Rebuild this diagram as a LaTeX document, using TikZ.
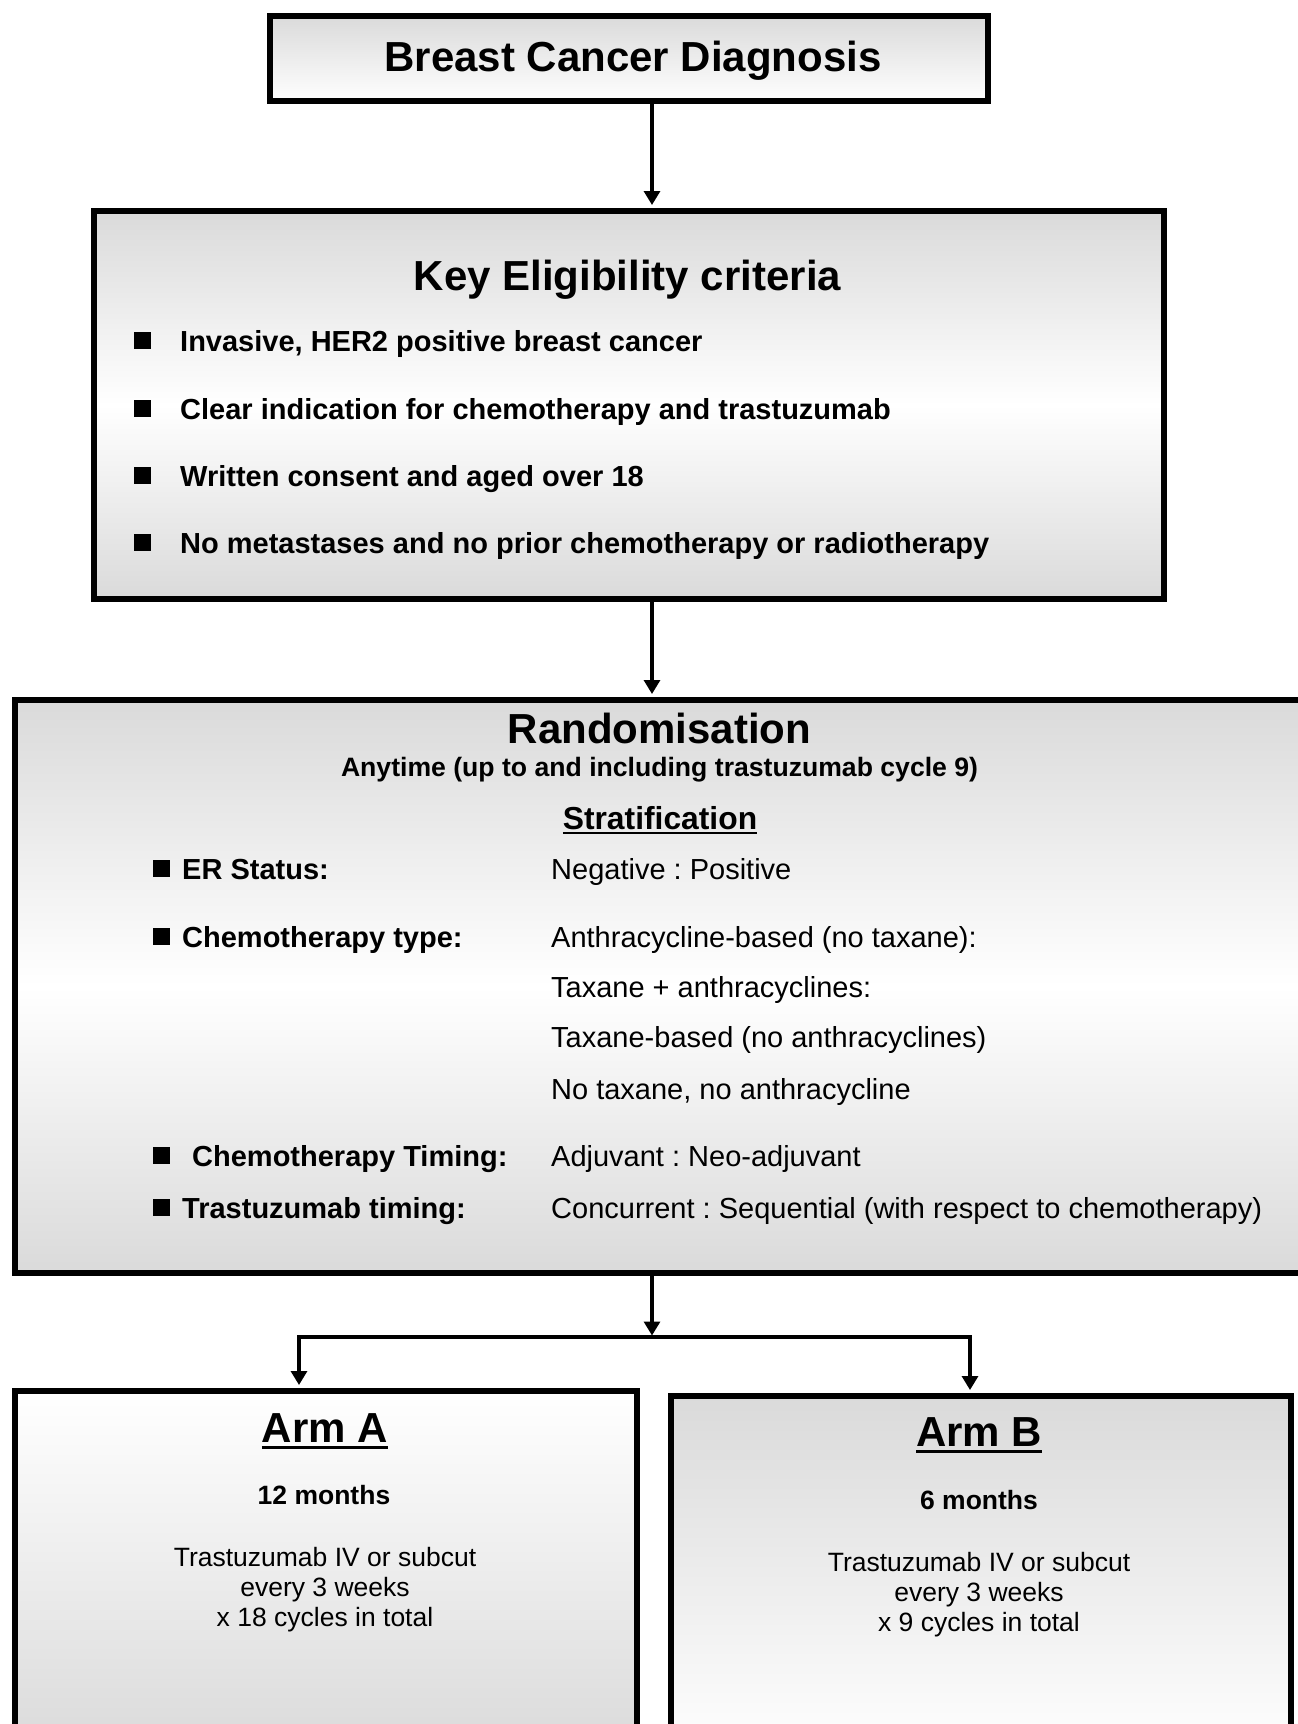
\documentclass[tikz,border=0pt]{standalone}
\usepackage{fontspec}
\setmainfont{Liberation Sans}
\usetikzlibrary{arrows.meta}
\definecolor{boxgray}{HTML}{DADADA}
\frenchspacing
\newcommand{\myul}[3]{\leavevmode\setbox0\hbox{#3}\rlap{\rule[-#2]{\wd0}{#1}}\box0}
\tikzset{
  box/.style={draw=black, line width=6pt, anchor=north west, inner sep=0pt, rectangle},
  titletext/.style={anchor=base, font=\fontsize{42}{50}\selectfont\bfseries, inner sep=0pt},
  itemtext/.style={anchor=base west, font=\fontsize{29}{35}\selectfont\bfseries, inner sep=0pt},
  valtext/.style={anchor=base west, font=\fontsize{29}{35}\selectfont, inner sep=0pt},
  armtext/.style={anchor=base, font=\fontsize{26.5}{30}\selectfont, inner sep=0pt},
  armbold/.style={anchor=base, font=\fontsize{26.5}{30}\selectfont\bfseries, inner sep=0pt},
  conn/.style={line width=3.2pt, -{Triangle[length=14pt,width=16pt]}},
  sq/.style={fill=black, draw=none, minimum size=17pt, inner sep=0pt, rectangle}
}
\begin{document}
\begin{tikzpicture}[x=1pt,y=-1pt]
\clip (0,0) rectangle (1298,1724);
\fill[white] (0,0) rectangle (1298,1724);

% boxes
\node[box, top color=boxgray, bottom color=white, minimum width=718pt, minimum height=85pt] (diag) at (267,13) {};
\node[box, top color=boxgray, bottom color=boxgray, middle color=white, minimum width=1070pt, minimum height=388pt] (elig) at (91,208) {};
\node[box, top color=boxgray, bottom color=boxgray, middle color=white, minimum width=1310pt, minimum height=573pt] (rand) at (12,697) {};
\node[box, top color=white, bottom color=boxgray, minimum width=622pt, minimum height=360pt] (arma) at (12,1388) {};
\node[box, top color=boxgray, bottom color=white, minimum width=620pt, minimum height=360pt] (armb) at (668,1393) {};

% connectors
\coordinate (ax) at (652,0);
\coordinate (split) at (652,1337);
\coordinate (lsplit) at (299,1337);
\coordinate (rsplit) at (970,1337);
\draw[conn] (diag.south -| ax) -- ([yshift=3pt]elig.north -| ax);
\draw[conn] (elig.south -| ax) -- ([yshift=3pt]rand.north -| ax);
\draw[conn] (rand.south -| ax) -- ([yshift=1.5pt]split);
\draw[line width=3.2pt] ([xshift=-1.6pt]lsplit) -- ([xshift=1.6pt]rsplit);
\draw[conn] (lsplit) -- ([yshift=3pt]arma.north -| lsplit);
\draw[conn] (rsplit) -- ([yshift=3pt]armb.north -| rsplit);

% top box text
\node[titletext] (tdiag) at (633,71) {Breast Cancer Diagnosis};

% eligibility
\node[titletext] (telig) at (627.5,290) {Key Eligibility criteria};
\node[sq] (e1) at (142.5,340.5) {};
\node[itemtext] (te1) at (180,351) {Invasive, HER2 positive breast cancer};
\node[sq] (e2) at (142.5,408.5) {};
\node[itemtext] (te2) at (180,419) {Clear indication for chemotherapy and trastuzumab};
\node[sq] (e3) at (142.5,475.5) {};
\node[itemtext] (te3) at (180,486) {Written consent and aged over 18};
\node[sq] (e4) at (142.5,542.5) {};
\node[itemtext] (te4) at (180,553) {No metastases and no prior chemotherapy or radiotherapy};

% randomisation
\node[titletext] (trand) at (659.5,743) {Randomisation};
\node[anchor=base, font=\fontsize{26.6}{30}\selectfont\bfseries, inner sep=0pt] (tany) at (659.5,776) {Anytime (up to and including trastuzumab cycle 9)};
\node[anchor=base, font=\fontsize{31.8}{36}\selectfont\bfseries, inner sep=0pt] (tstrat) at (660,829) {\myul{2.5pt}{5pt}{Stratification}};

\node[sq] (r1) at (161,868) {};
\node[itemtext] (tr1) at (182,879) {ER Status:};
\node[valtext] (v1) at (551,879) {Negative : Positive};

\node[sq] (r2) at (161,936) {};
\node[itemtext] (tr2) at (182,947) {Chemotherapy type:};
\node[valtext] (v2a) at (551,947) {Anthracycline-based (no taxane):};
\node[valtext] (v2b) at (551,997) {Taxane + anthracyclines:};
\node[valtext] (v2c) at (551,1047) {Taxane-based (no anthracyclines)};
\node[valtext] (v2d) at (551,1099) {No taxane, no anthracycline};

\node[sq] (r3) at (161,1155) {};
\node[itemtext] (tr3) at (192,1166) {Chemotherapy Timing:};
\node[valtext] (v3) at (551,1166) {Adjuvant : Neo-adjuvant};

\node[sq] (r4) at (161,1207) {};
\node[itemtext] (tr4) at (182,1218) {Trastuzumab timing:};
\node[valtext] (v4) at (551,1218) {Concurrent : Sequential (with respect to chemotherapy)};

% arm A
\node[titletext] (tarma) at (325,1442) {\myul{3.5pt}{7pt}{Arm A}};
\node[armbold] (ma) at (324,1504.5) {12 months};
\node[armtext] (a1) at (325,1566) {Trastuzumab IV or subcut};
\node[armtext] (a2) at (325,1596) {every 3 weeks};
\node[armtext] (a3) at (325,1626) {x 18 cycles in total};

% arm B
\node[titletext] (tarmb) at (979,1446) {\myul{3.5pt}{7pt}{Arm B}};
\node[armbold] (mb) at (979,1509) {6 months};
\node[armtext] (b1) at (979,1571) {Trastuzumab IV or subcut};
\node[armtext] (b2) at (979,1601) {every 3 weeks};
\node[armtext] (b3) at (979,1631) {x 9 cycles in total};
\end{tikzpicture}
\end{document}
